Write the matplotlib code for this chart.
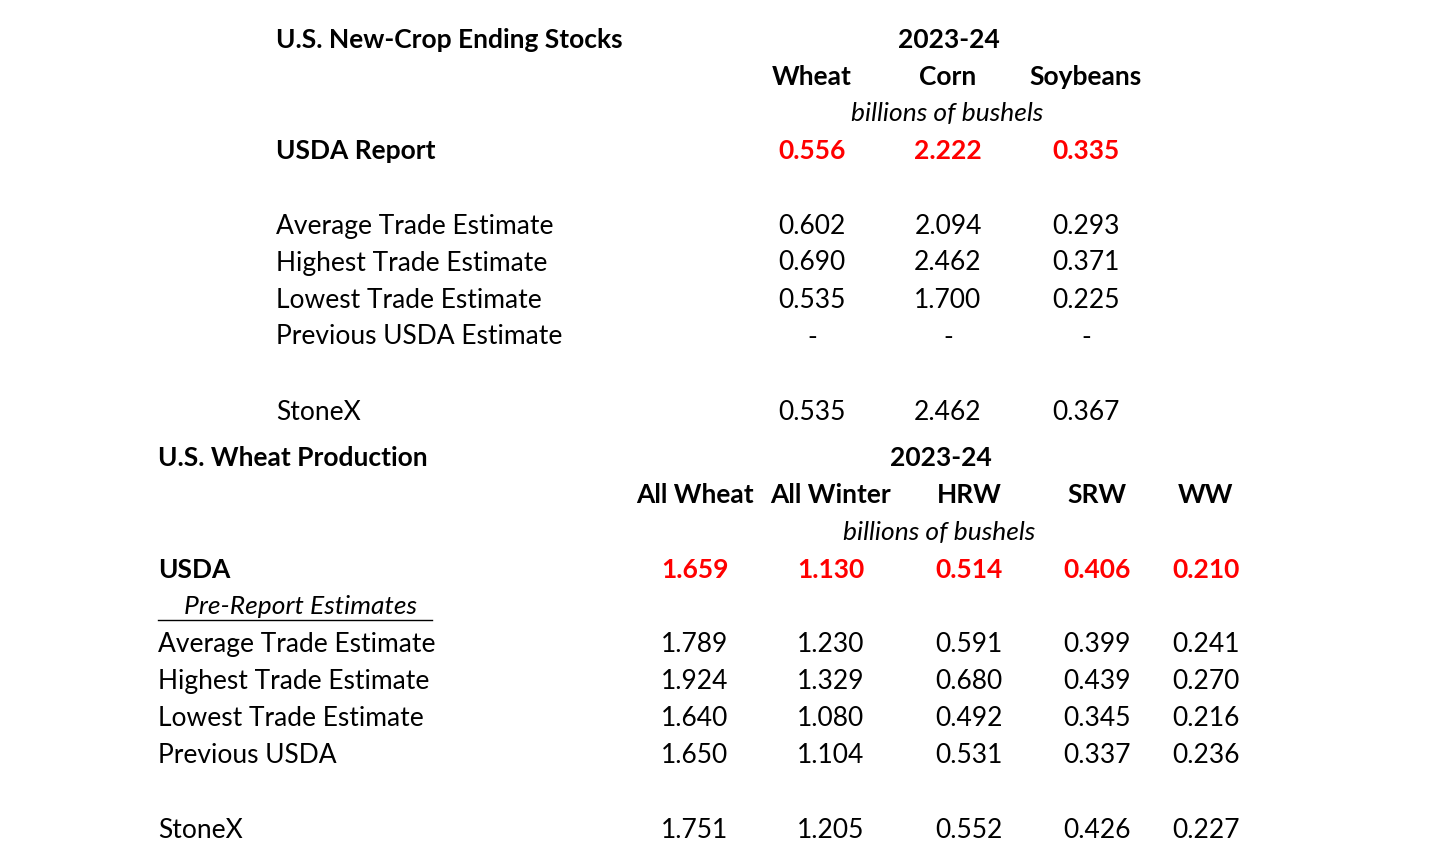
import matplotlib.pyplot as plt

plt.rcParams['font.family'] = ['Lato', 'DejaVu Sans']

# top table
stocks_cols = ['Wheat', 'Corn', 'Soybeans']
stocks_usda = ['0.556', '2.222', '0.335']
stocks_rows = ['Average Trade Estimate', 'Highest Trade Estimate',
               'Lowest Trade Estimate', 'Previous USDA Estimate']
stocks_vals = [['0.602', '2.094', '0.293'],
               ['0.690', '2.462', '0.371'],
               ['0.535', '1.700', '0.225'],
               ['-', '-', '-']]
stocks_stonex = ['0.535', '2.462', '0.367']

# bottom table
prod_cols = ['All Wheat', 'All Winter', 'HRW', 'SRW', 'WW']
prod_usda = ['1.659', '1.130', '0.514', '0.406', '0.210']
prod_rows = ['Average Trade Estimate', 'Highest Trade Estimate',
             'Lowest Trade Estimate', 'Previous USDA']
prod_vals = [['1.789', '1.230', '0.591', '0.399', '0.241'],
             ['1.924', '1.329', '0.680', '0.439', '0.270'],
             ['1.640', '1.080', '0.492', '0.345', '0.216'],
             ['1.650', '1.104', '0.531', '0.337', '0.236']]
prod_stonex = ['1.751', '1.205', '0.552', '0.426', '0.227']

W, H = 1440, 846
fig = plt.figure(figsize=(14.4, 8.46), dpi=100)
FS = 19


def t(x, y, s, ha='left', **kw):
    kw.setdefault('fontsize', FS)
    fig.text(x / W, 1 - y / H, s, ha=ha, va='center', **kw)


# --- ending stocks
sx = [812, 948, 1086]
t(276, 40, 'U.S. New-Crop Ending Stocks', weight='bold')
t(949, 40, '2023-24', ha='center', weight='bold')
for x, c in zip(sx, stocks_cols):
    t(x, 77, c, ha='center', weight='bold')
t(947, 113, 'billions of bushels', ha='center', style='italic')
t(276, 151, 'USDA Report', weight='bold')
for x, v in zip(sx, stocks_usda):
    t(x, 151, v, ha='center', weight='bold', color='red')
for y, name, vals in zip([226, 263, 300, 337], stocks_rows, stocks_vals):
    t(276, y, name)
    for x, v in zip(sx, vals):
        t(x, y, v, ha='center')
t(276, 412, 'StoneX')
for x, v in zip(sx, stocks_stonex):
    t(x, 412, v, ha='center')

# --- wheat production
px = [695, 831, 969, 1097, 1206]
t(158, 458, 'U.S. Wheat Production', weight='bold')
t(941, 458, '2023-24', ha='center', weight='bold')
for x, c in zip(px, prod_cols):
    t(x, 495, c, ha='center', weight='bold')
t(939, 532, 'billions of bushels', ha='center', style='italic')
t(158, 570, 'USDA', weight='bold')
for x, v in zip(px, prod_usda):
    t(x, 570, v, ha='center', weight='bold', color='red')
t(184, 607, 'Pre-Report Estimates', style='italic')
fig.add_artist(plt.Line2D([158 / W, 432 / W], [1 - 620 / H, 1 - 620 / H],
                          color='black', lw=1))
for y, name, vals in zip([644, 681, 718, 755], prod_rows, prod_vals):
    t(158, y, name)
    for x, v in zip(px, vals):
        t(x, y, v, ha='center')
t(158, 830, 'StoneX')
for x, v in zip(px, prod_stonex):
    t(x, 830, v, ha='center')

fig.savefig('out.png', dpi=100, facecolor='white')
